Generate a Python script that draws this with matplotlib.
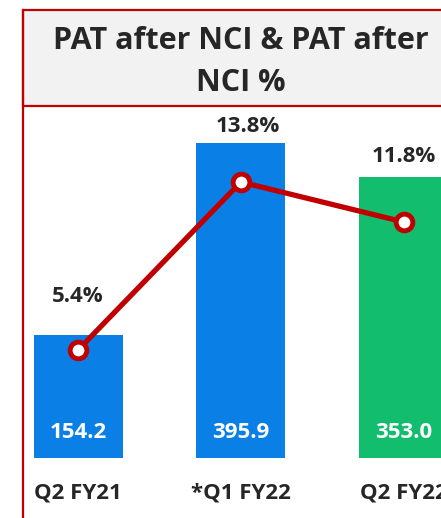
import matplotlib
matplotlib.use("Agg")
import matplotlib.pyplot as plt
from matplotlib.patches import Rectangle
from matplotlib.lines import Line2D

# ---- data ----
categories = ["Q2 FY21", "*Q1 FY22", "Q2 FY22"]
pat_values = [154.2, 395.9, 353.0]
pat_pct = [5.4, 13.8, 11.8]
value_labels = ["154.2", "395.9", "353.0"]
pct_labels = ["5.4%", "13.8%", "11.8%"]
title = "PAT after NCI & PAT after\nNCI %"

# ---- style ----
bar_colors = ["#0a7fe6", "#0a7fe6", "#12bd6e"]
line_color = "#c00000"
text_dark = "#262626"
FONT = ["Open Sans", "DejaVu Sans"]
pct_label_offsets = [(0, 53), (7, 56), (0, 65)]  # pixels from markers
LBL = 16

W, H = 441, 518
fig = plt.figure(figsize=(W / 100, H / 100), dpi=100)
fig.patch.set_facecolor("white")

def fx(px):
    return px / W

def fy(py):
    return 1 - py / H

# title box
box_left, box_top, box_bottom = 22.5, 10, 106
fig.patches.append(Rectangle((fx(box_left), fy(box_bottom)), 1.2, fy(box_top) - fy(box_bottom),
                             transform=fig.transFigure, facecolor="#f2f2f2",
                             edgecolor=line_color, linewidth=1.6, zorder=0))
fig.lines.append(Line2D([fx(box_left), fx(box_left)], [0, fy(box_top)], transform=fig.transFigure,
                        color=line_color, linewidth=1.6))
fig.text(fx(241), fy(62), title, ha="center", va="center", fontsize=22, fontweight="bold",
         color=text_dark, family=FONT, linespacing=1.52)

# axes
ax = fig.add_axes([fx(box_left + 1), 0, 1 - fx(box_left + 1), fy(box_bottom + 1)])
ax.set_facecolor("none")
x = list(range(len(categories)))
ax.bar(x, pat_values, width=0.546, color=bar_colors, zorder=2)
ax.set_xlim(-0.335, 2.229)
px_per_unit = 0.796
ax.set_ylim(-60 / px_per_unit, (458 - 107) / px_per_unit)
ax.axis("off")

for i, v in enumerate(value_labels):
    ax.annotate(v, xy=(i, 0), xytext=(0, 25), textcoords="offset pixels", ha="center", va="center",
                fontsize=LBL, fontweight="bold", color="white", family=FONT, zorder=3)
    ax.annotate(categories[i], xy=(i, 0), xytext=(0, -35), textcoords="offset pixels", ha="center",
                va="center", fontsize=LBL, fontweight="bold", color=text_dark, family=FONT,
                annotation_clip=False)

ax2 = ax.twinx()
ax2.set_ylim(-60 / 20, (458 - 107) / 20)
ax2.axis("off")
ax2.plot(x, pat_pct, color=line_color, linewidth=3.8, marker="o", markersize=12,
         markerfacecolor="white", markeredgecolor=line_color, markeredgewidth=3.5, zorder=4)
for i, t in enumerate(pct_labels):
    ax2.annotate(t, xy=(i, pat_pct[i]), xytext=pct_label_offsets[i], textcoords="offset pixels",
                 ha="center", va="center", fontsize=LBL, fontweight="bold", color=text_dark, family=FONT)

fig.savefig("out.png", dpi=100)
